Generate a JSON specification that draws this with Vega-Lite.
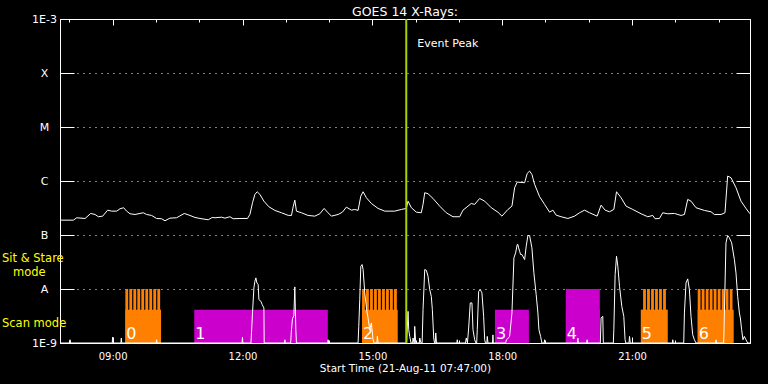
{
  "$schema": "https://vega.github.io/schema/vega-lite/v6.json",
  "width": 690,
  "height": 324,
  "autosize": {"type": "none"},
  "padding": {"left": 60, "top": 19, "right": 18, "bottom": 41},
  "background": "black",
  "config": {
    "view": {"stroke": "white", "strokeWidth": 1, "fill": "black"},
    "axis": {"domainColor": "white", "tickColor": "white", "labelColor": "white", "titleColor": "white", "labelFont": "DejaVu Sans", "titleFont": "DejaVu Sans", "grid": false, "domainWidth": 1, "tickWidth": 1, "titleFontWeight": "normal", "labelFlush": false, "labelOverlap": false}
  },
  "title": {"text": "GOES 14 X-Rays:", "color": "white", "font": "DejaVu Sans", "fontSize": 12.5, "fontWeight": "normal", "anchor": "middle", "offset": -5},
  "datasets": {
    "obs": [
      {"id": "0", "start": 9.293, "end": 10.117, "group": "A", "mode": "stare"},
      {"id": "1", "start": 10.885, "end": 13.971, "group": "B", "mode": "scan"},
      {"id": "2", "start": 14.762, "end": 15.586, "group": "A", "mode": "stare"},
      {"id": "3", "start": 17.832, "end": 18.617, "group": "B", "mode": "scan"},
      {"id": "4", "start": 19.47, "end": 20.255, "group": "B", "mode": "stare"},
      {"id": "5", "start": 21.202, "end": 21.825, "group": "A", "mode": "stare"},
      {"id": "6", "start": 22.517, "end": 23.348, "group": "A", "mode": "stare"}
    ],
    "notes": [
      {"label": "Event Peak", "hour": 15.7833}
    ],
    "modes": [
      {"label": "Sit & Stare", "line2": "mode", "level": -7.5},
      {"label": "Scan mode", "line2": "", "level": -8.7}
    ],
    "teeth": [
      {"start": 9.293, "end": 9.358}, {"start": 9.385, "end": 9.45}, {"start": 9.478, "end": 9.543}, {"start": 9.57, "end": 9.635}, {"start": 9.662, "end": 9.727}, {"start": 9.755, "end": 9.82}, {"start": 9.847, "end": 9.912}, {"start": 9.939, "end": 10.004}, {"start": 10.032, "end": 10.097},
      {"start": 14.762, "end": 14.827}, {"start": 14.854, "end": 14.919}, {"start": 14.947, "end": 15.012}, {"start": 15.039, "end": 15.104}, {"start": 15.131, "end": 15.196}, {"start": 15.224, "end": 15.289}, {"start": 15.316, "end": 15.381}, {"start": 15.408, "end": 15.473}, {"start": 15.501, "end": 15.566},
      {"start": 21.255, "end": 21.32}, {"start": 21.347, "end": 21.412}, {"start": 21.44, "end": 21.505}, {"start": 21.532, "end": 21.597}, {"start": 21.624, "end": 21.689}, {"start": 21.717, "end": 21.782},
      {"start": 22.517, "end": 22.582}, {"start": 22.609, "end": 22.674}, {"start": 22.702, "end": 22.767}, {"start": 22.794, "end": 22.859}, {"start": 22.886, "end": 22.951}, {"start": 22.979, "end": 23.044}, {"start": 23.071, "end": 23.136}, {"start": 23.163, "end": 23.228}, {"start": 23.256, "end": 23.321}
    ],
    "long": [
      {"hour": 7.783, "logflux": -6.725}, {"hour": 7.809, "logflux": -6.725}, {"hour": 8.093, "logflux": -6.725}, {"hour": 8.169, "logflux": -6.681}, {"hour": 8.363, "logflux": -6.694}, {"hour": 8.492, "logflux": -6.601}, {"hour": 8.593, "logflux": -6.62}, {"hour": 8.67, "logflux": -6.662}, {"hour": 8.769, "logflux": -6.651}, {"hour": 8.884, "logflux": -6.54}, {"hour": 8.977, "logflux": -6.558}, {"hour": 9.092, "logflux": -6.558}, {"hour": 9.17, "logflux": -6.514}, {"hour": 9.254, "logflux": -6.495}, {"hour": 9.323, "logflux": -6.558}, {"hour": 9.401, "logflux": -6.607}, {"hour": 9.517, "logflux": -6.62}, {"hour": 9.708, "logflux": -6.588}, {"hour": 9.784, "logflux": -6.62}, {"hour": 9.9, "logflux": -6.638}, {"hour": 10.015, "logflux": -6.694}, {"hour": 10.131, "logflux": -6.699}, {"hour": 10.209, "logflux": -6.737}, {"hour": 10.324, "logflux": -6.688}, {"hour": 10.477, "logflux": -6.681}, {"hour": 10.654, "logflux": -6.601}, {"hour": 10.786, "logflux": -6.638}, {"hour": 10.901, "logflux": -6.675}, {"hour": 11.017, "logflux": -6.694}, {"hour": 11.208, "logflux": -6.718}, {"hour": 11.301, "logflux": -6.675}, {"hour": 11.363, "logflux": -6.681}, {"hour": 11.515, "logflux": -6.67}, {"hour": 11.594, "logflux": -6.688}, {"hour": 11.709, "logflux": -6.662}, {"hour": 11.785, "logflux": -6.699}, {"hour": 11.94, "logflux": -6.694}, {"hour": 12.115, "logflux": -6.694}, {"hour": 12.171, "logflux": -6.62}, {"hour": 12.231, "logflux": -6.403}, {"hour": 12.286, "logflux": -6.249}, {"hour": 12.339, "logflux": -6.199}, {"hour": 12.402, "logflux": -6.249}, {"hour": 12.494, "logflux": -6.373}, {"hour": 12.609, "logflux": -6.477}, {"hour": 12.748, "logflux": -6.545}, {"hour": 12.9, "logflux": -6.588}, {"hour": 13.055, "logflux": -6.636}, {"hour": 13.131, "logflux": -6.638}, {"hour": 13.17, "logflux": -6.477}, {"hour": 13.209, "logflux": -6.354}, {"hour": 13.246, "logflux": -6.558}, {"hour": 13.362, "logflux": -6.588}, {"hour": 13.516, "logflux": -6.638}, {"hour": 13.671, "logflux": -6.651}, {"hour": 13.786, "logflux": -6.607}, {"hour": 13.886, "logflux": -6.508}, {"hour": 13.962, "logflux": -6.577}, {"hour": 14.054, "logflux": -6.651}, {"hour": 14.209, "logflux": -6.62}, {"hour": 14.308, "logflux": -6.577}, {"hour": 14.4, "logflux": -6.484}, {"hour": 14.516, "logflux": -6.54}, {"hour": 14.594, "logflux": -6.527}, {"hour": 14.67, "logflux": -6.545}, {"hour": 14.733, "logflux": -6.28}, {"hour": 14.786, "logflux": -6.199}, {"hour": 14.862, "logflux": -6.31}, {"hour": 14.977, "logflux": -6.416}, {"hour": 15.132, "logflux": -6.508}, {"hour": 15.287, "logflux": -6.558}, {"hour": 15.517, "logflux": -6.558}, {"hour": 15.67, "logflux": -6.527}, {"hour": 15.785, "logflux": -6.508}, {"hour": 15.824, "logflux": -6.373}, {"hour": 15.901, "logflux": -6.495}, {"hour": 16.016, "logflux": -6.577}, {"hour": 16.131, "logflux": -6.588}, {"hour": 16.171, "logflux": -6.434}, {"hour": 16.21, "logflux": -6.217}, {"hour": 16.286, "logflux": -6.236}, {"hour": 16.401, "logflux": -6.323}, {"hour": 16.556, "logflux": -6.466}, {"hour": 16.708, "logflux": -6.588}, {"hour": 16.863, "logflux": -6.662}, {"hour": 17.018, "logflux": -6.662}, {"hour": 17.094, "logflux": -6.54}, {"hour": 17.209, "logflux": -6.466}, {"hour": 17.285, "logflux": -6.416}, {"hour": 17.364, "logflux": -6.434}, {"hour": 17.479, "logflux": -6.323}, {"hour": 17.595, "logflux": -6.373}, {"hour": 17.747, "logflux": -6.495}, {"hour": 17.901, "logflux": -6.577}, {"hour": 17.994, "logflux": -6.651}, {"hour": 18.132, "logflux": -6.527}, {"hour": 18.225, "logflux": -6.466}, {"hour": 18.287, "logflux": -6.124}, {"hour": 18.347, "logflux": -6.02}, {"hour": 18.518, "logflux": -6.032}, {"hour": 18.578, "logflux": -5.859}, {"hour": 18.633, "logflux": -5.816}, {"hour": 18.686, "logflux": -5.878}, {"hour": 18.749, "logflux": -6.063}, {"hour": 18.864, "logflux": -6.291}, {"hour": 18.98, "logflux": -6.434}, {"hour": 19.095, "logflux": -6.577}, {"hour": 19.171, "logflux": -6.54}, {"hour": 19.247, "logflux": -6.633}, {"hour": 19.363, "logflux": -6.662}, {"hour": 19.517, "logflux": -6.694}, {"hour": 19.672, "logflux": -6.651}, {"hour": 19.787, "logflux": -6.588}, {"hour": 19.903, "logflux": -6.54}, {"hour": 20.018, "logflux": -6.588}, {"hour": 20.193, "logflux": -6.651}, {"hour": 20.285, "logflux": -6.447}, {"hour": 20.378, "logflux": -6.54}, {"hour": 20.479, "logflux": -6.57}, {"hour": 20.579, "logflux": -6.527}, {"hour": 20.641, "logflux": -6.199}, {"hour": 20.747, "logflux": -6.31}, {"hour": 20.862, "logflux": -6.466}, {"hour": 21.017, "logflux": -6.527}, {"hour": 21.209, "logflux": -6.607}, {"hour": 21.363, "logflux": -6.662}, {"hour": 21.479, "logflux": -6.638}, {"hour": 21.532, "logflux": -6.699}, {"hour": 21.633, "logflux": -6.694}, {"hour": 21.709, "logflux": -6.588}, {"hour": 21.825, "logflux": -6.607}, {"hour": 21.98, "logflux": -6.601}, {"hour": 22.132, "logflux": -6.638}, {"hour": 22.21, "logflux": -6.62}, {"hour": 22.286, "logflux": -6.341}, {"hour": 22.362, "logflux": -6.373}, {"hour": 22.478, "logflux": -6.495}, {"hour": 22.671, "logflux": -6.545}, {"hour": 22.824, "logflux": -6.57}, {"hour": 22.902, "logflux": -6.62}, {"hour": 23.055, "logflux": -6.62}, {"hour": 23.147, "logflux": -6.588}, {"hour": 23.209, "logflux": -5.909}, {"hour": 23.286, "logflux": -5.939}, {"hour": 23.401, "logflux": -6.124}, {"hour": 23.517, "logflux": -6.373}, {"hour": 23.632, "logflux": -6.508}, {"hour": 23.724, "logflux": -6.607}
    ],
    "short": [
      {"hour": 7.783, "logflux": -9}, {"hour": 8.005, "logflux": -9}, {"hour": 8.016, "logflux": -8.94}, {"hour": 8.027, "logflux": -9},
      {"hour": 8.99, "logflux": -9}, {"hour": 8.999, "logflux": -8.89}, {"hour": 9.008, "logflux": -9},
      {"hour": 9.19, "logflux": -9}, {"hour": 9.2, "logflux": -8.91}, {"hour": 9.21, "logflux": -9},
      {"hour": 10.005, "logflux": -9}, {"hour": 10.015, "logflux": -8.94}, {"hour": 10.025, "logflux": -9},
      {"hour": 11.99, "logflux": -9}, {"hour": 11.999, "logflux": -8.89}, {"hour": 12.008, "logflux": -9},
      {"hour": 12.194, "logflux": -9}, {"hour": 12.208, "logflux": -8.81}, {"hour": 12.231, "logflux": -8.443}, {"hour": 12.263, "logflux": -7.98}, {"hour": 12.286, "logflux": -7.857}, {"hour": 12.309, "logflux": -7.794}, {"hour": 12.332, "logflux": -7.887}, {"hour": 12.362, "logflux": -7.918}, {"hour": 12.379, "logflux": -8.197}, {"hour": 12.425, "logflux": -8.228}, {"hour": 12.455, "logflux": -8.289}, {"hour": 12.494, "logflux": -8.351}, {"hour": 12.501, "logflux": -9},
      {"hour": 12.97, "logflux": -9}, {"hour": 12.979, "logflux": -8.94}, {"hour": 12.988, "logflux": -9},
      {"hour": 13.112, "logflux": -9}, {"hour": 13.131, "logflux": -8.753}, {"hour": 13.154, "logflux": -8.549}, {"hour": 13.186, "logflux": -8.494}, {"hour": 13.209, "logflux": -7.961}, {"hour": 13.232, "logflux": -8.753}, {"hour": 13.246, "logflux": -9},
      {"hour": 13.968, "logflux": -9}, {"hour": 13.978, "logflux": -8.94}, {"hour": 13.988, "logflux": -9},
      {"hour": 14.67, "logflux": -9}, {"hour": 14.686, "logflux": -8.692}, {"hour": 14.709, "logflux": -8.197}, {"hour": 14.733, "logflux": -7.579}, {"hour": 14.763, "logflux": -7.547}, {"hour": 14.786, "logflux": -7.64}, {"hour": 14.825, "logflux": -8.072}, {"hour": 14.862, "logflux": -8.351}, {"hour": 14.901, "logflux": -8.536}, {"hour": 14.94, "logflux": -8.753}, {"hour": 14.977, "logflux": -8.629}, {"hour": 15.016, "logflux": -8.94}, {"hour": 15.039, "logflux": -9}, {"hour": 15.105, "logflux": -9}, {"hour": 15.116, "logflux": -8.878}, {"hour": 15.132, "logflux": -9},
      {"hour": 15.792, "logflux": -9}, {"hour": 15.824, "logflux": -8.414}, {"hour": 15.84, "logflux": -8.753}, {"hour": 15.863, "logflux": -8.878}, {"hour": 15.894, "logflux": -9}, {"hour": 15.93, "logflux": -9}, {"hour": 15.94, "logflux": -8.907}, {"hour": 15.963, "logflux": -9}, {"hour": 15.97, "logflux": -9}, {"hour": 15.979, "logflux": -8.692}, {"hour": 16.002, "logflux": -9}, {"hour": 16.085, "logflux": -9}, {"hour": 16.094, "logflux": -8.907}, {"hour": 16.124, "logflux": -9}, {"hour": 16.15, "logflux": -9}, {"hour": 16.171, "logflux": -8.382}, {"hour": 16.21, "logflux": -7.64}, {"hour": 16.247, "logflux": -7.653}, {"hour": 16.286, "logflux": -7.764}, {"hour": 16.325, "logflux": -8.011}, {"hour": 16.362, "logflux": -8.135}, {"hour": 16.386, "logflux": -8.382}, {"hour": 16.418, "logflux": -8.907}, {"hour": 16.436, "logflux": -9}, {"hour": 16.452, "logflux": -9}, {"hour": 16.464, "logflux": -8.814}, {"hour": 16.482, "logflux": -9},
      {"hour": 16.952, "logflux": -9}, {"hour": 16.962, "logflux": -8.94}, {"hour": 16.972, "logflux": -9},
      {"hour": 17.151, "logflux": -9}, {"hour": 17.17, "logflux": -8.907}, {"hour": 17.197, "logflux": -9}, {"hour": 17.225, "logflux": -8.722}, {"hour": 17.262, "logflux": -8.258}, {"hour": 17.301, "logflux": -8.258}, {"hour": 17.325, "logflux": -8.753}, {"hour": 17.364, "logflux": -8.94}, {"hour": 17.394, "logflux": -9}, {"hour": 17.41, "logflux": -9}, {"hour": 17.424, "logflux": -8.753}, {"hour": 17.456, "logflux": -8.043}, {"hour": 17.493, "logflux": -8.011}, {"hour": 17.532, "logflux": -8.072}, {"hour": 17.571, "logflux": -8.506}, {"hour": 17.595, "logflux": -8.94}, {"hour": 17.613, "logflux": -9}, {"hour": 17.645, "logflux": -9}, {"hour": 17.655, "logflux": -8.878}, {"hour": 17.671, "logflux": -9},
      {"hour": 17.776, "logflux": -9}, {"hour": 17.786, "logflux": -8.85}, {"hour": 17.796, "logflux": -9},
      {"hour": 18.075, "logflux": -9}, {"hour": 18.102, "logflux": -8.94}, {"hour": 18.171, "logflux": -8.878}, {"hour": 18.225, "logflux": -8.443}, {"hour": 18.271, "logflux": -7.423}, {"hour": 18.31, "logflux": -7.33}, {"hour": 18.347, "logflux": -7.176}, {"hour": 18.363, "logflux": -7.176}, {"hour": 18.379, "logflux": -7.238}, {"hour": 18.402, "logflux": -7.301}, {"hour": 18.425, "logflux": -7.362}, {"hour": 18.455, "logflux": -7.362}, {"hour": 18.518, "logflux": -7.455}, {"hour": 18.555, "logflux": -7.208}, {"hour": 18.594, "logflux": -7.009}, {"hour": 18.633, "logflux": -7.009}, {"hour": 18.686, "logflux": -7.238}, {"hour": 18.732, "logflux": -7.701}, {"hour": 18.785, "logflux": -8.104}, {"hour": 18.825, "logflux": -8.443}, {"hour": 18.848, "logflux": -8.753}, {"hour": 18.887, "logflux": -8.878}, {"hour": 18.917, "logflux": -9}, {"hour": 18.97, "logflux": -9}, {"hour": 18.979, "logflux": -8.94}, {"hour": 18.998, "logflux": -9},
      {"hour": 19.738, "logflux": -9}, {"hour": 19.748, "logflux": -8.907}, {"hour": 19.758, "logflux": -9},
      {"hour": 19.952, "logflux": -9}, {"hour": 19.962, "logflux": -8.94}, {"hour": 19.972, "logflux": -9},
      {"hour": 20.267, "logflux": -9}, {"hour": 20.285, "logflux": -8.536}, {"hour": 20.324, "logflux": -8.506}, {"hour": 20.336, "logflux": -9},
      {"hour": 20.567, "logflux": -9}, {"hour": 20.579, "logflux": -8.753}, {"hour": 20.609, "logflux": -7.733}, {"hour": 20.641, "logflux": -7.393}, {"hour": 20.671, "logflux": -7.579}, {"hour": 20.71, "logflux": -7.95}, {"hour": 20.763, "logflux": -8.321}, {"hour": 20.809, "logflux": -8.506}, {"hour": 20.839, "logflux": -8.94}, {"hour": 20.855, "logflux": -9}, {"hour": 20.93, "logflux": -9}, {"hour": 20.941, "logflux": -8.878}, {"hour": 20.959, "logflux": -9},
      {"hour": 21.931, "logflux": -9}, {"hour": 21.941, "logflux": -8.94}, {"hour": 21.951, "logflux": -9},
      {"hour": 22.194, "logflux": -9}, {"hour": 22.21, "logflux": -8.443}, {"hour": 22.247, "logflux": -7.887}, {"hour": 22.286, "logflux": -7.813}, {"hour": 22.325, "logflux": -8.011}, {"hour": 22.362, "logflux": -8.506}, {"hour": 22.401, "logflux": -8.846}, {"hour": 22.44, "logflux": -8.94}, {"hour": 22.478, "logflux": -9},
      {"hour": 22.93, "logflux": -9}, {"hour": 22.94, "logflux": -8.94}, {"hour": 22.95, "logflux": -9},
      {"hour": 23.117, "logflux": -9}, {"hour": 23.133, "logflux": -8.443}, {"hour": 23.17, "logflux": -7.145}, {"hour": 23.209, "logflux": -7.009}, {"hour": 23.248, "logflux": -7.052}, {"hour": 23.301, "logflux": -7.145}, {"hour": 23.364, "logflux": -7.455}, {"hour": 23.401, "logflux": -7.701}, {"hour": 23.44, "logflux": -8.135}, {"hour": 23.479, "logflux": -8.443}, {"hour": 23.502, "logflux": -8.536}, {"hour": 23.532, "logflux": -8.753}, {"hour": 23.562, "logflux": -8.94}, {"hour": 23.595, "logflux": -8.878}, {"hour": 23.632, "logflux": -8.94}, {"hour": 23.671, "logflux": -9}, {"hour": 23.724, "logflux": -9}
    ]
  },
  "resolve": {"axis": {"x": "independent", "y": "independent"}},
  "layer": [
    {
      "data": {"name": "obs"},
      "mark": {"type": "rect"},
      "encoding": {
        "x": {"field": "start", "type": "quantitative", "scale": {"domain": [7.7833, 23.725], "nice": false, "zero": false},
              "axis": {"orient": "top", "values": [9, 12, 15, 18, 21], "tickSize": -6, "labels": false, "title": null, "domain": true}},
        "x2": {"field": "end"},
        "y": {"datum": -9, "type": "quantitative", "scale": {"domain": [-9, -3], "nice": false, "zero": false}, "axis": null},
        "y2": {"datum": -8.382},
        "color": {"field": "group", "type": "nominal", "scale": {"domain": ["A", "B"], "range": ["#ff8000", "#cc00cc"]}, "legend": null}
      }
    },
    {
      "data": {"name": "obs"},
      "transform": [{"filter": "datum.mode == 'stare' && datum.group == 'B'"}],
      "mark": {"type": "rect", "color": "#cc00cc"},
      "encoding": {
        "x": {"field": "start", "type": "quantitative", "axis": null},
        "x2": {"field": "end"},
        "y": {"datum": -9, "type": "quantitative", "axis": null},
        "y2": {"datum": -8}
      }
    },
    {
      "data": {"name": "teeth"},
      "mark": {"type": "rect", "color": "#ff8000"},
      "encoding": {
        "x": {"field": "start", "type": "quantitative",
              "axis": {"orient": "top", "values": [8, 10, 11, 13, 14, 16, 17, 19, 20, 22, 23], "tickSize": -3, "labels": false, "title": null, "domain": false}},
        "x2": {"field": "end"},
        "y": {"datum": -9, "type": "quantitative", "axis": null},
        "y2": {"datum": -8}
      }
    },
    {
      "data": {"name": "obs"},
      "mark": {"type": "text", "color": "white", "font": "DejaVu Sans", "fontSize": 16, "align": "left", "baseline": "alphabetic", "dx": 1, "dy": -4.5},
      "encoding": {
        "x": {"field": "start", "type": "quantitative", "axis": null},
        "y": {"datum": -9, "type": "quantitative", "axis": null},
        "text": {"field": "id"}
      }
    },
    {
      "data": {"name": "long"},
      "mark": {"type": "line", "color": "white", "strokeWidth": 1},
      "encoding": {
        "x": {"field": "hour", "type": "quantitative", "scale": {"domain": [7.7833, 23.725], "nice": false, "zero": false},
              "axis": {"orient": "bottom", "values": [9, 12, 15, 18, 21], "labelExpr": "(datum.value < 10 ? '0' : '') + datum.value + ':00'", "tickSize": -6, "labelPadding": 14, "labelBaseline": "top", "labelFontSize": 10, "title": "Start Time (21-Aug-11 07:47:00)", "titleFontSize": 10.5, "titlePadding": 2}},
        "y": {"field": "logflux", "type": "quantitative", "scale": {"domain": [-9, -3], "nice": false, "zero": false},
              "axis": {"orient": "left", "values": [-9, -8, -7, -6, -5, -4, -3], "labelExpr": "datum.value == -9 ? '1E-9' : datum.value == -3 ? '1E-3' : datum.value == -8 ? 'A' : datum.value == -7 ? 'B' : datum.value == -6 ? 'C' : datum.value == -5 ? 'M' : 'X'", "tickSize": -14, "labelPadding": 30, "labelAlign": "center", "labelBaseline": "middle", "labelFontSize": 11, "title": null}}
      }
    },
    {
      "data": {"name": "short"},
      "mark": {"type": "line", "color": "white", "strokeWidth": 1},
      "encoding": {
        "x": {"field": "hour", "type": "quantitative",
              "axis": {"orient": "bottom", "values": [8, 10, 11, 13, 14, 16, 17, 19, 20, 22, 23], "tickSize": -3, "labels": false, "title": null, "domain": false}},
        "y": {"field": "logflux", "type": "quantitative",
              "axis": {"orient": "right", "values": [-8, -7, -6, -5, -4], "tickSize": -14, "labels": false, "title": null, "grid": true, "gridColor": "white", "gridDash": [1, 5], "gridWidth": 1, "gridOpacity": 1}}
      }
    },
    {
      "data": {"name": "notes"},
      "mark": {"type": "rule", "color": "#a4d400", "strokeWidth": 2},
      "encoding": {
        "x": {"field": "hour", "type": "quantitative", "axis": null}
      }
    },
    {
      "data": {"name": "notes"},
      "mark": {"type": "text", "color": "white", "font": "DejaVu Sans", "fontSize": 11, "align": "left", "baseline": "alphabetic", "dx": 11, "dy": 28},
      "encoding": {
        "x": {"field": "hour", "type": "quantitative", "axis": null},
        "y": {"datum": -3, "type": "quantitative", "axis": null},
        "text": {"field": "label"}
      }
    },
    {
      "data": {"name": "modes"},
      "mark": {"type": "text", "color": "#ffff00", "font": "DejaVu Sans", "fontSize": 11.5, "align": "left", "baseline": "alphabetic", "dx": -58, "dy": 0},
      "encoding": {
        "x": {"datum": 7.7833, "type": "quantitative", "axis": null},
        "y": {"field": "level", "type": "quantitative", "axis": null},
        "text": {"field": "label"}
      }
    },
    {
      "data": {"name": "modes"},
      "transform": [{"filter": "datum.line2 != ''"}],
      "mark": {"type": "text", "color": "#ffff00", "font": "DejaVu Sans", "fontSize": 11.5, "align": "left", "baseline": "alphabetic", "dx": -47, "dy": 13.5},
      "encoding": {
        "x": {"datum": 7.7833, "type": "quantitative", "axis": null},
        "y": {"field": "level", "type": "quantitative", "axis": null},
        "text": {"field": "line2"}
      }
    }
  ]
}
